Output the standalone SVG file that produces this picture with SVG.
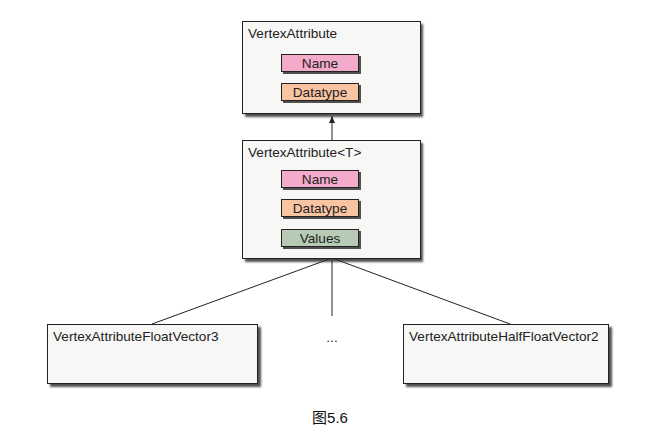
<svg xmlns="http://www.w3.org/2000/svg" width="649" height="448" viewBox="0 0 649 448">
<style>
.box{fill:#f7f8f6;stroke:#222;stroke-width:1}
.sh{fill:#333;opacity:0.85}
.t{font-family:"Liberation Sans",Arial,sans-serif;font-size:13.6px;fill:#222}
.fl{stroke:#222;stroke-width:1}
.name{fill:#f4aacb}
.dt{fill:#f9c4a2}
.val{fill:#b6cab6}
.c{stroke:#222;stroke-width:1;fill:none}
</style>
<defs>
<marker id="ah" markerWidth="8" markerHeight="8" refX="7" refY="4" orient="auto" markerUnits="userSpaceOnUse">
<path d="M0,1 L7,4 L0,7 Z" fill="#222"/>
</marker>
<filter id="blur" x="-5%" y="-5%" width="110%" height="110%"><feGaussianBlur stdDeviation="1"/></filter>
</defs>
<rect width="649" height="448" fill="#fff"/>
<g id="connectors">
<line class="c" x1="332" y1="140" x2="332" y2="116" marker-end="url(#ah)"/>
<line class="c" x1="332" y1="258" x2="152" y2="324"/>
<line class="c" x1="332" y1="258" x2="510" y2="324"/>
<line class="c" x1="332" y1="258" x2="332" y2="316"/>
</g>
<g id="VertexAttribute">
<rect class="sh" x="245" y="24" width="178" height="93" filter="url(#blur)"/>
<rect class="box" x="242.5" y="21.5" width="178" height="92"/>
<text class="t" x="248" y="38">VertexAttribute</text>
<rect class="sh" x="283" y="56" width="78" height="18"/>
<rect class="name fl" x="281.5" y="54.5" width="77" height="17"/>
<text class="t" x="320" y="68" text-anchor="middle">Name</text>
<rect class="sh" x="283" y="85" width="78" height="18"/>
<rect class="dt fl" x="281.5" y="83.5" width="77" height="17"/>
<text class="t" x="320" y="97" text-anchor="middle">Datatype</text>
</g>
<g id="VertexAttributeT">
<rect class="sh" x="245" y="143" width="178" height="119" filter="url(#blur)"/>
<rect class="box" x="242.5" y="140.5" width="178" height="118"/>
<text class="t" x="248" y="157">VertexAttribute&lt;T&gt;</text>
<rect class="sh" x="283" y="172" width="78" height="18"/>
<rect class="name fl" x="281.5" y="170.5" width="77" height="17"/>
<text class="t" x="320" y="184" text-anchor="middle">Name</text>
<rect class="sh" x="283" y="201" width="78" height="18"/>
<rect class="dt fl" x="281.5" y="199.5" width="77" height="17"/>
<text class="t" x="320" y="213" text-anchor="middle">Datatype</text>
<rect class="sh" x="283" y="231" width="78" height="18"/>
<rect class="val fl" x="281.5" y="229.5" width="77" height="17"/>
<text class="t" x="320" y="243" text-anchor="middle">Values</text>
</g>
<g id="FloatVector3">
<rect class="sh" x="50" y="327" width="211" height="60" filter="url(#blur)"/>
<rect class="box" x="47.5" y="324.5" width="210" height="59"/>
<text class="t" x="53" y="341">VertexAttributeFloatVector3</text>
</g>
<g id="ellipsis">
<text class="t" x="332" y="342" text-anchor="middle">...</text>
</g>
<g id="HalfFloatVector2">
<rect class="sh" x="406" y="327" width="206" height="60" filter="url(#blur)"/>
<rect class="box" x="403.5" y="324.5" width="205" height="59"/>
<text class="t" x="409" y="341">VertexAttributeHalfFloatVector2</text>
</g>
<text x="330" y="423" text-anchor="middle" style="font-family:'Liberation Sans','Noto Sans CJK SC',sans-serif;font-size:15px;fill:#111">图5.6</text>
</svg>
